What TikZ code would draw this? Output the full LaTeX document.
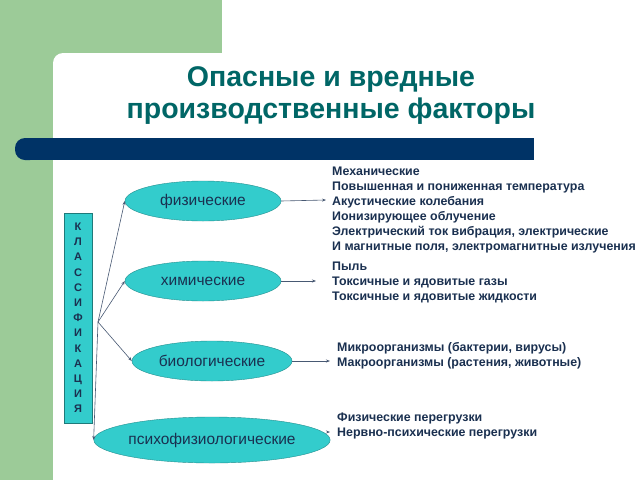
\documentclass[tikz,border=0pt]{standalone}
\usepackage{fontspec}
\setmainfont{Liberation Sans}
\usetikzlibrary{shapes.geometric,arrows.meta}
\definecolor{gr}{HTML}{9CCB98}
\definecolor{navy}{HTML}{003366}
\definecolor{teal}{HTML}{006666}
\definecolor{turq}{HTML}{33CCCC}
\definecolor{txt}{HTML}{1A3050}
\begin{document}
\begin{tikzpicture}[x=1pt,y=-1pt,
  ell/.style={ellipse,draw=turq!70!black,fill=turq,inner sep=0pt,font=\fontsize{15.5}{17}\selectfont,text=txt},
  lst/.style={anchor=north west,align=left,font=\bfseries\fontsize{12.4}{15}\selectfont,text=txt,inner sep=0pt},
  arr/.style={-{Stealth[length=4pt,width=3pt]},draw=txt!80,line width=0.6pt}]
\useasboundingbox (0,0) rectangle (640,480);
\fill[white] (0,0) rectangle (640,480);
\fill[gr] (0,0) rectangle (222,62);
\fill[gr] (0,0) rectangle (53,480);
\fill[white,rounded corners=10pt] (53,53) rectangle (660,500);
\node[font=\bfseries\fontsize{28.5}{32}\selectfont,text=teal,align=center] (title) at (331,96) {Опасные и вредные\\производственные факторы};
\fill[navy,rounded corners=10pt] (15,138) rectangle (40,160);
\fill[navy] (30,138) rectangle (534,160);
\node[draw=turq!60!black,fill=turq,minimum width=28pt,minimum height=210pt,inner sep=0pt,align=center,font=\bfseries\fontsize{11}{15.2}\selectfont,text=txt] (box) at (78,318) {К\\Л\\А\\С\\С\\И\\Ф\\И\\К\\А\\Ц\\И\\Я};
\coordinate (fan) at (98,322);
\node[ell,minimum width=156pt,minimum height=40pt] (phys) at (203,201) {физические};
\node[ell,minimum width=156pt,minimum height=40pt] (chem) at (203,281) {химические};
\node[ell,minimum width=160pt,minimum height=40pt] (bio) at (212,361) {биологические};
\node[ell,minimum width=186pt,minimum height=46pt] (psy) at (212,440) {психофизиологические};
\foreach \n in {phys,chem,bio,psy} \draw[arr] (fan) -- (\n.west);
\node[lst] (t1) at (332,167) {Механические\\Повышенная и пониженная температура\\Акустические колебания\\Ионизирующее облучение\\Электрический ток вибрация, электрические\\И магнитные поля, электромагнитные излучения};
\node[lst] (t2) at (332,262) {Пыль\\Токсичные и ядовитые газы\\Токсичные и ядовитые жидкости};
\node[lst] (t3) at (337,342) {Микроорганизмы (бактерии, вирусы)\\Макроорганизмы (растения, животные)};
\node[lst] (t4) at (337,413) {Физические перегрузки\\Нервно-психические перегрузки};
\coordinate (e1) at (326,200); \coordinate (e2) at (316,281);
\coordinate (e3) at (330,361); \coordinate (e4) at (330,432);
\draw[arr] (phys.east) -- (e1);
\draw[arr] (chem.east) -- (e2);
\draw[arr] (bio.east) -- (e3);
\draw[arr] (psy.east |- e4) ++(-3,0) -- (e4);
\end{tikzpicture}
\end{document}
